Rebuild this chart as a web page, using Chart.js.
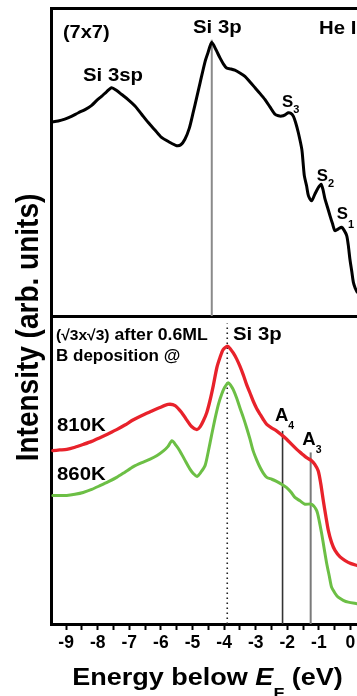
<!DOCTYPE html>
<html>
<head>
<meta charset="utf-8">
<script src="https://cdn.jsdelivr.net/npm/chart.js@4.4.1/dist/chart.umd.min.js"></script>
<style>
  html, body { margin: 0; padding: 0; background: #fff; overflow: hidden; }
  canvas { display: block; }
</style>
</head>
<body>
<canvas id="c" width="357" height="696"></canvas>
<script>
// ---------------- DATA ----------------
// Top panel: Si(111)-(7x7), He I spectrum
const energy7x7 = [-9.46, -9.25, -9.04, -8.83, -8.61, -8.40, -8.19, -8.03, -7.87, -7.72, -7.56, -7.40, -7.24, -7.03, -6.82, -6.61, -6.40, -6.19, -5.98, -5.74, -5.50, -5.37, -5.24, -5.10, -4.98, -4.87, -4.76, -4.60, -4.51, -4.39, -4.26, -4.13, -4.02, -3.92, -3.79, -3.66, -3.50, -3.34, -3.18, -3.02, -2.86, -2.71, -2.55, -2.39, -2.28, -2.18, -2.07, -1.97, -1.89, -1.81, -1.73, -1.65, -1.54, -1.50, -1.46, -1.39, -1.33, -1.23, -1.13, -1.03, -0.93, -0.87, -0.81, -0.73, -0.65, -0.57, -0.49, -0.38, -0.28, -0.20, -0.12, -0.07, -0.02, 0.04, 0.09, 0.15, 0.21];
const intensity7x7 = [63.0, 63.3, 63.9, 64.8, 66.0, 67.0, 68.4, 70.0, 71.4, 72.8, 74.1, 73.2, 71.9, 70.2, 68.2, 65.5, 62.8, 60.4, 58.0, 56.5, 55.3, 55.6, 57.4, 61.0, 66.0, 70.8, 75.7, 82.7, 85.5, 88.8, 86.5, 83.8, 81.8, 80.5, 80.2, 79.8, 78.9, 77.8, 76.0, 74.1, 72.2, 70.3, 67.9, 65.5, 65.0, 64.9, 65.3, 66.0, 65.8, 64.9, 62.6, 59.5, 54.1, 49.8, 45.5, 42.3, 39.0, 37.4, 39.5, 41.5, 42.8, 41.0, 38.1, 35.4, 32.6, 30.0, 27.7, 28.3, 28.8, 27.8, 26.1, 23.0, 18.6, 14.5, 11.0, 9.0, 7.8];

// Bottom panel: (√3x√3) after 0.6 ML B deposition at 810 K and 860 K
const energy810K = [-9.42, -9.20, -8.98, -8.72, -8.46, -8.19, -7.93, -7.66, -7.40, -7.14, -6.87, -6.60, -6.34, -6.05, -5.77, -5.55, -5.34, -5.18, -5.03, -4.86, -4.76, -4.66, -4.55, -4.45, -4.34, -4.23, -4.13, -4.03, -3.89, -3.80, -3.71, -3.60, -3.50, -3.39, -3.29, -3.18, -3.08, -2.97, -2.86, -2.76, -2.65, -2.50, -2.34, -2.18, -2.02, -1.86, -1.70, -1.54, -1.39, -1.23, -1.13, -1.02, -0.94, -0.86, -0.78, -0.70, -0.60, -0.49, -0.33, -0.17, 0.02, 0.21];
const intensity810K = [56.3, 56.5, 56.7, 57.4, 58.3, 59.3, 60.5, 61.8, 63.1, 64.6, 66.3, 67.7, 68.9, 70.2, 71.3, 70.9, 68.6, 66.2, 64.1, 63.1, 64.0, 65.9, 68.6, 72.4, 77.5, 83.2, 86.5, 89.1, 90.2, 89.3, 88.0, 86.0, 83.7, 80.8, 77.8, 75.0, 72.4, 70.0, 68.1, 66.4, 64.8, 63.7, 62.7, 61.4, 60.0, 58.3, 56.7, 55.3, 54.0, 53.0, 51.8, 49.7, 45.5, 40.0, 35.0, 30.3, 26.5, 23.9, 21.8, 20.6, 19.6, 19.0];

const energy860K = [-9.42, -9.20, -8.98, -8.72, -8.46, -8.19, -7.93, -7.66, -7.40, -7.14, -6.87, -6.60, -6.34, -6.12, -5.92, -5.78, -5.65, -5.52, -5.40, -5.24, -5.08, -4.96, -4.86, -4.74, -4.60, -4.50, -4.39, -4.29, -4.18, -4.08, -3.99, -3.87, -3.79, -3.71, -3.60, -3.50, -3.39, -3.29, -3.18, -3.08, -2.97, -2.86, -2.76, -2.65, -2.49, -2.34, -2.18, -2.02, -1.88, -1.76, -1.60, -1.44, -1.23, -1.07, -0.99, -0.91, -0.83, -0.75, -0.67, -0.60, -0.49, -0.39, -0.23, -0.07, 0.21];
const intensity860K = [41.7, 41.7, 41.7, 42.1, 42.7, 43.7, 44.9, 46.2, 47.6, 49.3, 51.1, 52.4, 53.5, 54.7, 56.2, 57.6, 59.5, 58.0, 56.2, 53.2, 50.3, 48.7, 47.9, 49.2, 51.5, 56.0, 61.6, 66.5, 71.3, 74.5, 76.7, 78.3, 77.5, 76.1, 73.3, 70.2, 67.0, 63.8, 60.0, 56.2, 53.3, 50.8, 49.0, 47.6, 47.0, 46.3, 45.4, 44.3, 42.8, 41.1, 40.0, 38.9, 38.9, 36.8, 33.5, 29.2, 24.3, 19.5, 15.5, 12.0, 10.0, 8.7, 7.7, 7.1, 6.6];

// Vertical marker lines: Si 3p (7x7), Si 3p (√3), A4, A3
const markerNames  = ['Si 3p (7x7)', 'Si 3p (√3x√3)', 'A4', 'A3'];
const markerEnergy = [-4.39, -3.90, -2.15, -1.26];
const markerTop    = [89.7, 97.6, 62.7, 55.7];
const markerPanel  = ['yTop', 'yBot', 'yBot', 'yBot'];

// x axis
const xMin = -9.478, xMax = 0.206;
const xTickLabels = [-9, -8, -7, -6, -5, -4, -3, -2, -1, 0];

// ---------------- STYLES ----------------
const FONT = '"Liberation Sans", Arial, Helvetica, sans-serif';
const markerStyles = [
  { color: '#8a8a8a', width: 2, dash: [] },
  { color: '#222', width: 1.6, dash: [1.6, 3.4] },
  { color: '#333', width: 1.6, dash: [] },
  { color: '#7a7a7a', width: 2, dash: [] }
];

// Text annotations anchored in data coordinates
const notes = [
  { axis: 'yTop', x: -9.10,  y: 91.9, sx: 1.08, parts: [{ t: '(7x7)', size: 18.5 }] },
  { axis: 'yTop', x: -8.465, y: 78.0, sx: 1.10, parts: [{ t: 'Si 3sp', size: 18.5 }] },
  { axis: 'yTop', x: -4.984, y: 93.5, sx: 1.10, parts: [{ t: 'Si 3p', size: 18.5 }] },
  { axis: 'yTop', x: -0.997, y: 93.2, sx: 1.10, parts: [{ t: 'He I', size: 18.5 }] },
  { axis: 'yTop', x: -2.168, y: 69.3, sx: 1.05, parts: [{ t: 'S', size: 16 }, { t: '3', size: 10.5, dy: 8 }] },
  { axis: 'yTop', x: -1.07,  y: 45.2, sx: 1.05, parts: [{ t: 'S', size: 16 }, { t: '2', size: 10.5, dy: 7.5 }] },
  { axis: 'yTop', x: -0.437, y: 32.8, sx: 1.05, parts: [{ t: 'S', size: 16 }, { t: '1', size: 10.5, dy: 10 }] },
  { axis: 'yBot', x: -9.32,  y: 93.7, sx: 1.04, parts: [{ t: '(√3x√3)', size: 15 }, { t: ' after 0.6ML', size: 17 }] },
  { axis: 'yBot', x: -9.32,  y: 86.9, sx: 1.00, parts: [{ t: 'B deposition @', size: 17 }] },
  { axis: 'yBot', x: -3.718, y: 94.0, sx: 1.10, parts: [{ t: 'Si 3p', size: 18.5 }] },
  { axis: 'yBot', x: -9.288, y: 64.3, sx: 1.10, parts: [{ t: '810K', size: 18.5 }] },
  { axis: 'yBot', x: -9.288, y: 48.5, sx: 1.10, parts: [{ t: '860K', size: 18.5 }] },
  { axis: 'yBot', x: -2.389, y: 67.5, sx: 1.00, parts: [{ t: 'A', size: 18.5 }, { t: '4', size: 10.5, dy: 10 }] },
  { axis: 'yBot', x: -1.525, y: 59.8, sx: 1.00, parts: [{ t: 'A', size: 18.5 }, { t: '3', size: 10.5, dy: 10.5 }] }
];

function drawRich(ctx, parts, x, y, align, sx) {
  ctx.save();
  let total = 0;
  for (const p of parts) {
    ctx.font = `${p.style || 'normal'} bold ${p.size}px ${FONT}`;
    p._w = ctx.measureText(p.t).width;
    total += p._w;
  }
  ctx.translate(x, y);
  ctx.scale(sx, 1);
  let cx = align === 'center' ? -total / 2 : 0;
  ctx.textAlign = 'left';
  ctx.textBaseline = 'middle';
  ctx.fillStyle = '#000';
  for (const p of parts) {
    ctx.font = `${p.style || 'normal'} bold ${p.size}px ${FONT}`;
    ctx.fillText(p.t, cx, p.dy || 0);
    cx += p._w;
  }
  ctx.restore();
}

const textPlugin = {
  id: 'texts',
  afterDraw(chart) {
    const ctx = chart.ctx;
    const xs = chart.scales.x;
    for (const n of notes) {
      const px = xs.getPixelForValue(n.x);
      const py = chart.scales[n.axis].getPixelForValue(n.y);
      drawRich(ctx, n.parts, px, py, 'left', n.sx);
    }
    // y axis title
    ctx.save();
    ctx.translate(29, 327.5);
    ctx.rotate(-Math.PI / 2);
    ctx.scale(1, 1.13);
    ctx.font = `bold 28px ${FONT}`;
    ctx.textAlign = 'center';
    ctx.textBaseline = 'middle';
    ctx.fillStyle = '#000';
    ctx.fillText('Intensity (arb. units)', 0, 0);
    ctx.restore();
    // x axis title
    drawRich(ctx, [
      { t: 'Energy below ', size: 23.5 },
      { t: 'E', size: 23.5, style: 'italic' },
      { t: 'F', size: 15.5, dy: 15 },
      { t: ' (eV)', size: 23.5 }
    ], 207.5, 678.5, 'center', 1.15);
  }
};

const pts = (xs, ys) => xs.map((x, i) => ({ x, y: ys[i] }));

const curveDatasets = [
  { label: '(7x7)', data: pts(energy7x7, intensity7x7), yAxisID: 'yTop', borderColor: '#000000', borderWidth: 3 },
  { label: '810K', data: pts(energy810K, intensity810K), yAxisID: 'yBot', borderColor: '#e8222b', borderWidth: 3.3 },
  { label: '860K', data: pts(energy860K, intensity860K), yAxisID: 'yBot', borderColor: '#6cbf45', borderWidth: 3 }
].map(d => Object.assign(d, { pointRadius: 0, tension: 0.25, fill: false, borderJoinStyle: 'round', borderCapStyle: 'round' }));

const markerDatasets = markerNames.map((name, i) => ({
  label: name,
  data: [{ x: markerEnergy[i], y: 0 }, { x: markerEnergy[i], y: markerTop[i] }],
  yAxisID: markerPanel[i],
  borderColor: markerStyles[i].color,
  borderWidth: markerStyles[i].width,
  borderDash: markerStyles[i].dash,
  pointRadius: 0,
  fill: false
}));

new Chart(document.getElementById('c'), {
  type: 'line',
  data: { datasets: [...curveDatasets, ...markerDatasets] },
  options: {
    responsive: false,
    animation: false,
    devicePixelRatio: 1,
    events: [],
    layout: { padding: { left: 51, top: 8, right: 0, bottom: 39 } },
    plugins: { legend: { display: false }, tooltip: { enabled: false }, title: { display: false } },
    scales: {
      x: {
        type: 'linear', position: 'bottom', min: xMin, max: xMax,
        afterFit(s) { s.paddingLeft = 0; s.paddingRight = 0; },
        ticks: {
          stepSize: 0.5, includeBounds: false, autoSkip: false, maxRotation: 0, minRotation: 0,
          padding: 3, color: '#000',
          font: { family: FONT, size: 17.5, weight: 'bold' },
          callback: v => xTickLabels.includes(v) ? String(v) : ''
        },
        grid: { display: true, drawOnChartArea: false, drawTicks: true, tickLength: 6, tickWidth: 2, tickColor: '#000' },
        border: { display: true, color: '#000', width: 3 }
      },
      yTop: {
        type: 'linear', position: 'left', min: -100, max: 100,
        ticks: { display: false, stepSize: 100 },
        grid: { drawTicks: false, color: '#000', lineWidth: 3 },
        border: { display: true, color: '#000', width: 3 }
      },
      yBot: { type: 'linear', position: 'left', min: 0, max: 200, display: false }
    }
  },
  plugins: [textPlugin]
});
</script>
</body>
</html>
